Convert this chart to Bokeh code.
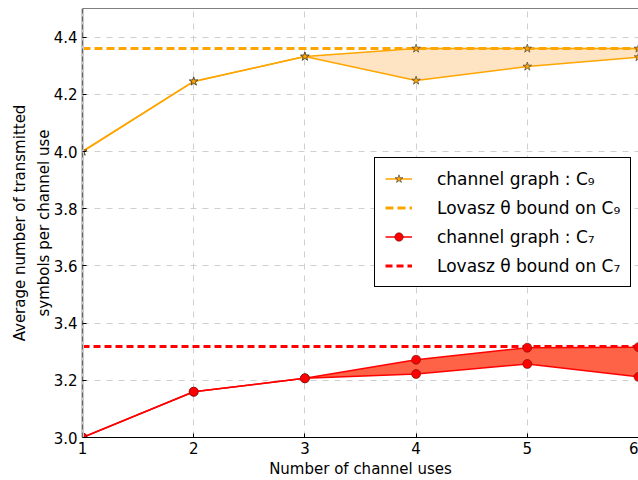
from bokeh.plotting import figure
from bokeh.models import Span, Legend, LegendItem, FixedTicker, PrintfTickFormatter, Range1d
from bokeh.embed import file_html
from bokeh.resources import INLINE

# ---- data ----
channel_uses = [1, 2, 3, 4, 5, 6]
c9_upper = [4.0, 4.245, 4.332, 4.360, 4.360, 4.360]
c9_lower = [4.0, 4.245, 4.332, 4.248, 4.297, 4.330]
c7_upper = [3.0, 3.160, 3.207, 3.272, 3.314, 3.316]
c7_lower = [3.0, 3.160, 3.207, 3.222, 3.257, 3.212]
lovasz_c9 = 4.360
lovasz_c7 = 3.318
x_ticks = [1, 2, 3, 4, 5, 6]
y_ticks = [3.0, 3.2, 3.4, 3.6, 3.8, 4.0, 4.2, 4.4]

FONT = "DejaVu Sans"

p = figure(width=638, height=480, x_range=Range1d(1, 6), y_range=Range1d(3.0, 4.5),
           output_backend="svg", toolbar_location=None,
           min_border_left=82, min_border_right=0, min_border_top=8, min_border_bottom=43)
p.outline_line_color = None
p.background_fill_color = "white"

# grid
for g in (p.xgrid, p.ygrid):
    g.grid_line_color = "#cfcfcf"
    g.grid_line_dash = "6 6"
    g.grid_line_width = 1

# axes
p.xaxis.ticker = FixedTicker(ticks=x_ticks)
p.yaxis.ticker = FixedTicker(ticks=y_ticks)
p.yaxis.formatter = PrintfTickFormatter(format="%.1f")
for ax in (p.xaxis, p.yaxis):
    ax.major_tick_in = 4
    ax.major_tick_out = 0
    ax.minor_tick_line_color = None
    ax.major_tick_line_color = "black"
    ax.major_label_text_font = FONT
    ax.major_label_text_font_size = "15px"
    ax.major_label_text_color = "black"
    ax.axis_label_text_font = FONT
    ax.axis_label_text_font_size = "15px"
    ax.axis_label_text_font_style = "normal"
    ax.axis_label_text_color = "black"
p.xaxis.major_label_standoff = 4
p.yaxis.major_label_standoff = 5
p.xaxis.axis_line_color = "black"
p.yaxis.axis_line_color = "#c8c8c8"
p.yaxis.axis_line_width = 3
p.xaxis.axis_label = "Number of channel uses"
p.xaxis.axis_label_standoff = 3
p.yaxis.axis_label = "Average number of transmitted\nsymbols per channel use"
p.yaxis.axis_label_standoff = -2
p.yaxis.axis_label_text_line_height = 1.33

# frame edges
p.add_layout(Span(location=channel_uses[0], dimension="height", line_color="black",
                  line_dash="5 3", line_width=1))
p.add_layout(Span(location=4.5, dimension="width", line_color="black", line_width=1))

# fills
p.varea(x=channel_uses, y1=c9_lower, y2=c9_upper, fill_color="#ffe4c4", fill_alpha=1.0)
p.varea(x=channel_uses, y1=c7_lower, y2=c7_upper, fill_color="#ff6347", fill_alpha=1.0)

# lines
c9_line = p.line(channel_uses, c9_upper, line_color="orange", line_width=1.5)
p.line(channel_uses, c9_lower, line_color="orange", line_width=1.5)
c7_line = p.line(channel_uses, c7_upper, line_color="red", line_width=1.5)
p.line(channel_uses, c7_lower, line_color="red", line_width=1.5)

bx = [channel_uses[0], channel_uses[-1]]
c9_bound = p.line(bx, [lovasz_c9, lovasz_c9], line_color="orange", line_width=3, line_dash="8 4")
c7_bound = p.line(bx, [lovasz_c7, lovasz_c7], line_color="red", line_width=3, line_dash="7 4")

# markers
c9_mk = p.scatter(channel_uses, c9_upper, marker="star", size=9, fill_color="orange",
                  line_color="#333333", line_width=0.6)
p.scatter(channel_uses, c9_lower, marker="star", size=9, fill_color="orange",
          line_color="#333333", line_width=0.6)
c7_mk = p.scatter(channel_uses, c7_upper, marker="circle", size=9, fill_color="red",
                  line_color="#661111", line_width=0.6)
p.scatter(channel_uses, c7_lower, marker="circle", size=9, fill_color="red",
          line_color="#661111", line_width=0.6)

legend = Legend(items=[
    LegendItem(label="channel graph : C₉", renderers=[c9_line, c9_mk]),
    LegendItem(label="Lovasz θ bound on C₉", renderers=[c9_bound]),
    LegendItem(label="channel graph : C₇", renderers=[c7_line, c7_mk]),
    LegendItem(label="Lovasz θ bound on C₇", renderers=[c7_bound]),
], location=(292, 150))
legend.border_line_color = "black"
legend.border_line_width = 1
legend.border_line_alpha = 1
legend.background_fill_color = "white"
legend.background_fill_alpha = 1
legend.padding = 10
legend.spacing = 8
legend.margin = 0
legend.glyph_width = 27
legend.glyph_height = 21
legend.label_height = 21
legend.label_standoff = 25
legend.label_text_font = FONT
legend.label_text_font_size = "17px"
legend.label_text_color = "black"
p.add_layout(legend)

open("out.html", "w").write(file_html(p, INLINE))
